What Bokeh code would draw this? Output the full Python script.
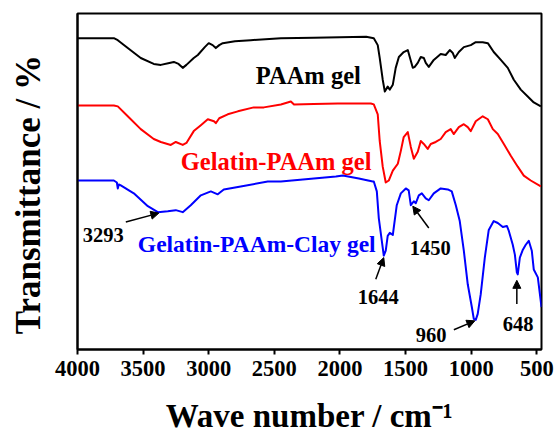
from bokeh.plotting import figure
from bokeh.models import Range1d, FixedTicker, Label, Arrow, NormalHead
from bokeh.embed import file_html
from bokeh.resources import INLINE

# ---- data (wavenumber in cm^-1, transmittance in arbitrary offset units) ----
paam_wn = [4000, 3723, 3693, 3617, 3518, 3419, 3365, 3300, 3266, 3230, 3198, 3170, 3114, 3083,
           3030, 3000, 2970, 2946, 2920, 2893, 2800, 2680, 2450, 2200, 2000, 1800, 1742, 1712,
           1697, 1674, 1658, 1636, 1620, 1597, 1575, 1551, 1514, 1483, 1468, 1445, 1430, 1407,
           1384, 1361, 1346, 1323, 1285, 1232, 1194, 1163, 1140, 1125, 1094, 1056, 1003, 965,
           912, 873, 828, 774, 721, 675, 622, 569, 523, 469]
paam_t = [315, 315, 313, 305, 295, 289, 288, 290, 291, 289, 285, 288, 295, 298,
          306, 310, 308, 305, 308, 310, 312, 313, 315, 315.5, 316, 316.5, 315, 308,
          295, 273, 261, 266, 263, 268, 285, 296, 301, 303, 296, 285, 286, 290,
          296, 295, 290, 286, 293, 299, 298, 303, 300, 295, 301, 306, 308, 311,
          311, 310, 301, 293, 285, 273, 263, 256, 250, 246]

gel_wn = [4000, 3723, 3693, 3617, 3518, 3419, 3365, 3289, 3251, 3198, 3170, 3114, 3060, 3007,
          2960, 2946, 2920, 2855, 2778, 2657, 2580, 2450, 2374, 2350, 2200, 2016, 1765, 1742,
          1712, 1697, 1674, 1651, 1628, 1597, 1559, 1536, 1514, 1483, 1460, 1437, 1407, 1384,
          1361, 1331, 1308, 1270, 1232, 1194, 1156, 1133, 1094, 1056, 1026, 1003, 965, 912,
          873, 835, 797, 751, 698, 645, 599, 546, 469]
gel_t = [247, 247, 246, 236, 223, 213, 210, 207, 210, 207, 209, 221, 227, 233,
         231, 229, 234, 238, 241, 245, 245, 248, 251, 248, 248.5, 249, 249, 248,
         238, 211, 185, 169, 171, 181, 188, 201, 215, 220, 205, 193, 200, 211,
         208, 203, 208, 210, 213, 220, 223, 218, 225, 228, 225, 221, 231, 236,
         233, 223, 218, 208, 196, 185, 176, 171, 165]

clay_wn = [4000, 3723, 3700, 3693, 3685, 3670, 3571, 3464, 3388, 3312, 3251, 3198, 3137, 3060,
           2984, 2931, 2885, 2756, 2550, 2450, 2031, 1978, 1856, 1750, 1742, 1719, 1704, 1681,
           1666, 1651, 1636, 1620, 1597, 1590, 1567, 1536, 1498, 1476, 1460, 1437, 1422, 1399,
           1376, 1346, 1323, 1285, 1232, 1178, 1148, 1117, 1087, 1056, 1026, 995, 980, 965,
           950, 927, 896, 866, 828, 797, 759, 728, 713, 683, 667, 652, 645, 629, 606, 584,
           561, 538, 523, 492, 464]
clay_t = [171, 171, 169, 163, 167, 166, 158, 145, 139, 140, 141, 139, 146, 156,
          160, 157, 162, 165, 170, 170, 175, 176, 173, 170, 170, 160, 133, 110,
          95, 100, 115, 118, 116, 123, 146, 158, 163, 161, 146, 150, 148, 156,
          158, 153, 151, 158, 163, 162, 160, 146, 130, 100, 66, 43, 31, 30,
          36, 56, 93, 121, 130, 128, 124, 125, 120, 106, 96, 78, 76, 93, 101, 106,
          110, 100, 81, 73, 43]

x_ticks = [4000, 3500, 3000, 2500, 2000, 1500, 1000, 500]
series_names = ["PAAm gel", "Gelatin-PAAm gel", "Gelatin-PAAm-Clay gel"]
peak_labels = ["3293", "1644", "1450", "960", "648"]

FONT = "Liberation Serif"

p = figure(width=555, height=436, output_backend="svg", toolbar_location=None,
           x_range=Range1d(4000, 464), y_range=Range1d(0, 340))
p.min_border_left = 77
p.min_border_right = 14
p.min_border_top = 13
p.min_border_bottom = 83
p.background_fill_color = "white"
p.border_fill_color = "white"
p.outline_line_color = "black"
p.outline_line_width = 2
p.xgrid.visible = False
p.ygrid.visible = False

# x axis
p.xaxis.ticker = FixedTicker(ticks=x_ticks)
p.xaxis.axis_line_width = 2
p.xaxis.major_tick_line_width = 2
p.xaxis.major_tick_out = 5
p.xaxis.major_tick_in = 0
p.xaxis.minor_tick_line_color = None
p.xaxis.major_label_text_font = FONT
p.xaxis.major_label_text_font_style = "bold"
p.xaxis.major_label_text_font_size = "22.5px"
p.xaxis.major_label_text_color = "black"
p.xaxis.major_label_standoff = 6
p.xaxis.axis_label = "Wave number / cm\u207b\u00b9"
p.xaxis.axis_label_text_font = FONT
p.xaxis.axis_label_text_font_style = "bold"
p.xaxis.axis_label_text_font_size = "33px"
p.xaxis.axis_label_text_color = "black"
p.xaxis.axis_label_standoff = 19

# y axis (no ticks)
p.yaxis.ticker = FixedTicker(ticks=[])
p.yaxis.axis_line_width = 2
p.yaxis.major_tick_line_color = None
p.yaxis.minor_tick_line_color = None
p.yaxis.major_label_text_font_size = "0px"
p.yaxis.axis_label = "Transmittance / %\u00a0\u00a0\u00a0"
p.yaxis.axis_label_text_font = FONT
p.yaxis.axis_label_text_font_style = "bold"
p.yaxis.axis_label_text_font_size = "35px"
p.yaxis.axis_label_text_color = "black"
p.yaxis.axis_label_standoff = 30

# curves
p.line(paam_wn, paam_t, line_color="black", line_width=2, line_join="round")
p.line(gel_wn, gel_t, line_color="#ff0000", line_width=2, line_join="round")
p.line(clay_wn, clay_t, line_color="#0000ff", line_width=2, line_join="round")


def lab(x, y, text, size, color="black"):
    p.add_layout(Label(x=x, y=y, text=text, text_font=FONT, text_font_style="bold",
                       text_font_size=size, text_color=color, text_align="left",
                       text_baseline="alphabetic"))


# series labels
lab(2641, 277, series_names[0], "24.5px", "black")
lab(3213, 190, series_names[1], "24.5px", "#ff0000")
lab(3540, 107, series_names[2], "23.5px", "#0000ff")

# peak labels
lab(3960, 116, peak_labels[0], "20.5px")
lab(1864, 53, peak_labels[1], "20.5px")
lab(1468, 103, peak_labels[2], "20.5px")
lab(1422, 15, peak_labels[3], "20.5px")
lab(759, 26, peak_labels[4], "20.5px")

# arrows
arrows = [
    (3632, 129, 3380, 138),
    (1727, 71, 1666, 93),
    (1323, 123, 1445, 145),
    (1132, 20, 972, 29),
    (652, 46, 652, 70),
]
for xs, ys, xe, ye in arrows:
    p.add_layout(Arrow(end=NormalHead(size=8, fill_color="black", line_color="black", line_width=1),
                       x_start=xs, y_start=ys, x_end=xe, y_end=ye,
                       line_color="black", line_width=1.5))

open("out.html", "w").write(file_html(p, INLINE))
